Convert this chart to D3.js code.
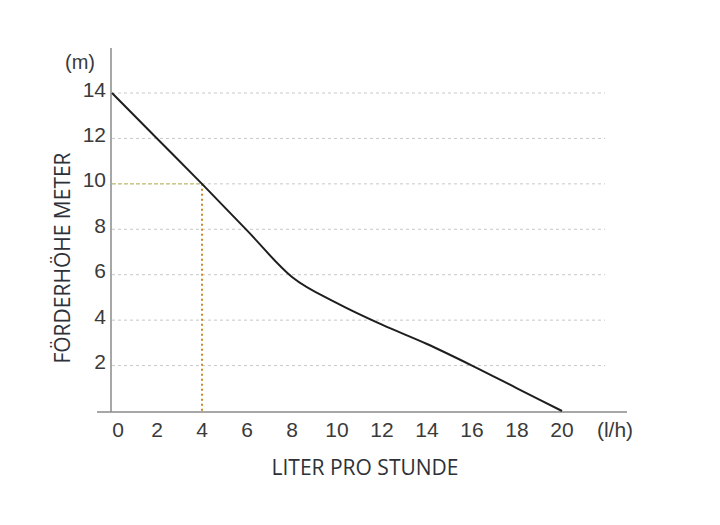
<!DOCTYPE html>
<html>
<head>
<meta charset="utf-8">
<script src="https://cdn.jsdelivr.net/npm/d3@7"></script>
<style>
  body { margin: 0; background: #fff; }
</style>
</head>
<body>
<div id="chart"></div>
<script>
// pump curve: flow (l/h) vs head (m)
const flow = [0, 2, 4, 6, 8, 10, 12, 14, 16, 18, 20];
const head = [14, 12.0, 10, 7.95, 5.9, 4.75, 3.8, 2.95, 2.0, 1.0, 0];
const xTicks = [0, 2, 4, 6, 8, 10, 12, 14, 16, 18, 20];
const yTicks = [2, 4, 6, 8, 10, 12, 14];
const markX = 4, markY = 10;

let width = 720, height = 525;
let tickFont = "Liberation Sans, Arial, sans-serif";

let x = d3.scaleLinear().domain([0, 20]).range([112, 562]);
let y = d3.scaleLinear().domain([0, 14]).range([411, 93]);

let svg = d3.select("#chart").append("svg")
    .attr("width", width)
    .attr("height", height);

// grid
svg.append("g")
    .selectAll("line")
    .data(yTicks)
    .join("line")
    .attr("x1", x(0))
    .attr("x2", 605)
    .attr("y1", d => y(d))
    .attr("y2", d => y(d))
    .attr("stroke", "#c8c8c8")
    .attr("stroke-width", 1)
    .attr("stroke-dasharray", "3,3");

// axis lines
svg.append("line")
    .attr("x1", 111).attr("x2", 111)
    .attr("y1", 48).attr("y2", 412)
    .attr("stroke", "#8a8a8a").attr("stroke-width", 1.5);
svg.append("line")
    .attr("x1", 97).attr("x2", 627)
    .attr("y1", 412).attr("y2", 412)
    .attr("stroke", "#8a8a8a").attr("stroke-width", 1.5);

// y labels
svg.append("g")
    .selectAll("text")
    .data(yTicks)
    .join("text")
    .attr("x", 106)
    .attr("y", d => y(d) - 2)
    .attr("text-anchor", "end")
    .attr("font-family", tickFont)
    .attr("font-size", 21)
    .attr("fill", "#3a3a3a")
    .attr("dominant-baseline", "middle")
    .text(d => d);

svg.append("text")
    .attr("x", 80).attr("y", 69)
    .attr("text-anchor", "middle")
    .attr("font-family", tickFont)
    .attr("font-size", 20)
    .attr("fill", "#3a3a3a")
    .text("(m)");

// x labels
svg.append("g")
    .selectAll("text")
    .data(xTicks)
    .join("text")
    .attr("x", d => x(d) + (d === 0 ? 6 : 0))
    .attr("y", 437)
    .attr("text-anchor", "middle")
    .attr("font-family", tickFont)
    .attr("font-size", 21)
    .attr("fill", "#3a3a3a")
    .text(d => d);

svg.append("text")
    .attr("x", 615).attr("y", 437)
    .attr("text-anchor", "middle")
    .attr("font-family", tickFont)
    .attr("font-size", 21)
    .attr("fill", "#3a3a3a")
    .text("(l/h)");

// operating point guides
svg.append("line")
    .attr("x1", x(0)).attr("x2", x(markX))
    .attr("y1", y(markY)).attr("y2", y(markY))
    .attr("stroke", "#c9c98a").attr("stroke-width", 1.5)
    .attr("stroke-dasharray", "4,2");
svg.append("line")
    .attr("x1", x(markX)).attr("x2", x(markX))
    .attr("y1", y(markY)).attr("y2", y(0))
    .attr("stroke", "#c98a2a").attr("stroke-width", 2)
    .attr("stroke-dasharray", "2,3");

// curve
let line = d3.line()
    .x((d, i) => x(d))
    .y((d, i) => y(head[i]))
    .curve(d3.curveMonotoneX);

svg.append("path")
    .attr("d", line(flow))
    .attr("fill", "none")
    .attr("stroke", "#1e1e1e")
    .attr("stroke-width", 2);

// axis titles
svg.append("text")
    .attr("x", 365).attr("y", 475)
    .attr("text-anchor", "middle")
    .attr("font-family", "Open Sans, sans-serif")
    .attr("font-size", 21)
    .attr("fill", "#2e3138")
    .text("LITER PRO STUNDE");

svg.append("text")
    .attr("transform", "translate(70,258) rotate(-90)")
    .attr("text-anchor", "middle")
    .attr("font-family", "Open Sans, sans-serif")
    .attr("font-size", 21)
    .attr("fill", "#2e3138")
    .text("FÖRDERHÖHE METER");
</script>
</body>
</html>
